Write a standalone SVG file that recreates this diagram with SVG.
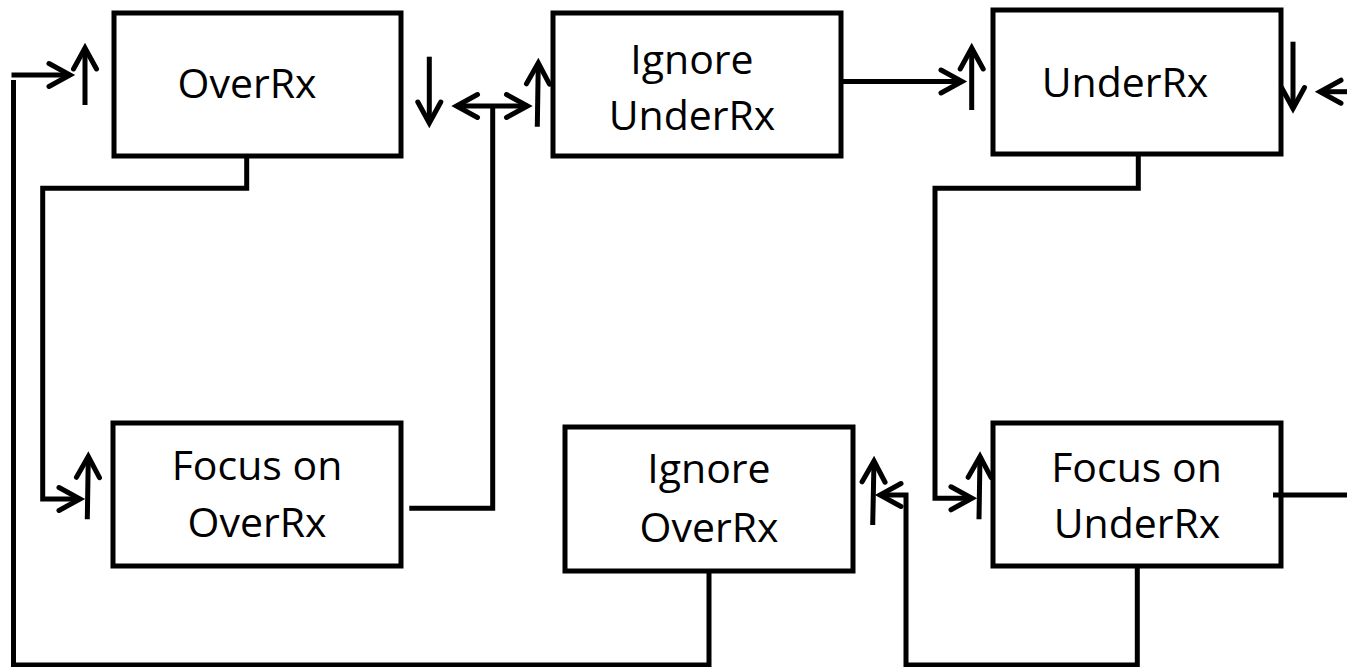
<svg xmlns="http://www.w3.org/2000/svg" width="1347" height="667" viewBox="0 0 1347 667">
  <defs>
    <!-- open chevron arrowhead, drawn in user units -->
    <marker id="chev" markerUnits="userSpaceOnUse" markerWidth="30" markerHeight="30" refX="0" refY="0" orient="auto-start-reverse" overflow="visible">
      <path d="M-21,-11.5 L0,0 L-21,11.5" fill="none" stroke="#000" stroke-width="5" stroke-linecap="round" stroke-linejoin="miter"/>
    </marker>
    <style>
      .box { fill: #fff; stroke: #000; stroke-width: 5; }
      .label { font-family: "Open Sans", "Liberation Sans", sans-serif; font-size: 41px; fill: #000; text-anchor: middle; }
      .wire { fill: none; stroke: #000; stroke-width: 5; stroke-linejoin: miter; }
      .arrow { marker-end: url(#chev); }
      .both { marker-start: url(#chev); marker-end: url(#chev); }
    </style>
  </defs>

  <g id="node-overrx">
    <rect class="box" x="114" y="13" width="287" height="143"/>
    <text class="label" x="247" y="98">OverRx</text>
  </g>

  <g id="node-ignore-underrx">
    <rect class="box" x="553" y="13" width="288" height="143"/>
    <text class="label" x="692" y="73.5">Ignore</text>
    <text class="label" x="692" y="130">UnderRx</text>
  </g>

  <g id="node-underrx">
    <rect class="box" x="993" y="10" width="288" height="144"/>
    <text class="label" x="1125" y="97">UnderRx</text>
  </g>

  <g id="node-focus-overrx">
    <rect class="box" x="113" y="423" width="288" height="143"/>
    <text class="label" x="257" y="480">Focus on</text>
    <text class="label" x="257" y="537">OverRx</text>
  </g>

  <g id="node-ignore-overrx">
    <rect class="box" x="565" y="427" width="288" height="144"/>
    <text class="label" x="709" y="483">Ignore</text>
    <text class="label" x="709" y="541.5">OverRx</text>
  </g>

  <g id="node-focus-underrx">
    <rect class="box" x="993" y="423" width="288" height="143"/>
    <text class="label" x="1136.5" y="481.5">Focus on</text>
    <text class="label" x="1137" y="538">UnderRx</text>
  </g>

  <g id="connectors">
    <!-- outer loop: Ignore OverRx back round to OverRx -->
    <path class="wire" d="M709,571 V665 H13.5 V80"/>
    <path class="wire arrow" d="M11.5,75 H70"/>
    <path class="wire arrow" d="M85,105 V48"/>

    <!-- OverRx down to Focus on OverRx -->
    <path class="wire arrow" d="M246.7,156 V188.3 H42.7 V499 H80"/>
    <path class="wire arrow" d="M87.3,519.3 L88.3,456.5"/>

    <!-- Focus on OverRx up to the two-way arrow -->
    <path class="wire" d="M409.3,508.3 H492.7 V106"/>
    <path class="wire both" d="M456.5,106 H527.5"/>
    <path class="wire arrow" d="M429.3,56.7 V123"/>
    <path class="wire arrow" d="M537.3,126.7 L538.3,63"/>

    <!-- Ignore UnderRx to UnderRx -->
    <path class="wire arrow" d="M843,81.5 H962"/>
    <path class="wire arrow" d="M971.7,110 V48"/>

    <!-- UnderRx down to Focus on UnderRx -->
    <path class="wire arrow" d="M1138.3,154 V188.3 H935 V498.3 H972"/>
    <path class="wire arrow" d="M979,519.3 L980,456.5"/>

    <!-- Focus on UnderRx out to the right edge -->
    <path class="wire" d="M1273,495 H1347"/>
    <path class="wire arrow" d="M1293,41.7 V108.5"/>
    <path class="wire arrow" d="M1347,91.7 H1320"/>

    <!-- Focus on UnderRx round to Ignore OverRx -->
    <path class="wire arrow" d="M1137.3,566 V665 H906 V495 H880"/>
    <path class="wire arrow" d="M872.7,525 L874,461"/>
  </g>
</svg>
